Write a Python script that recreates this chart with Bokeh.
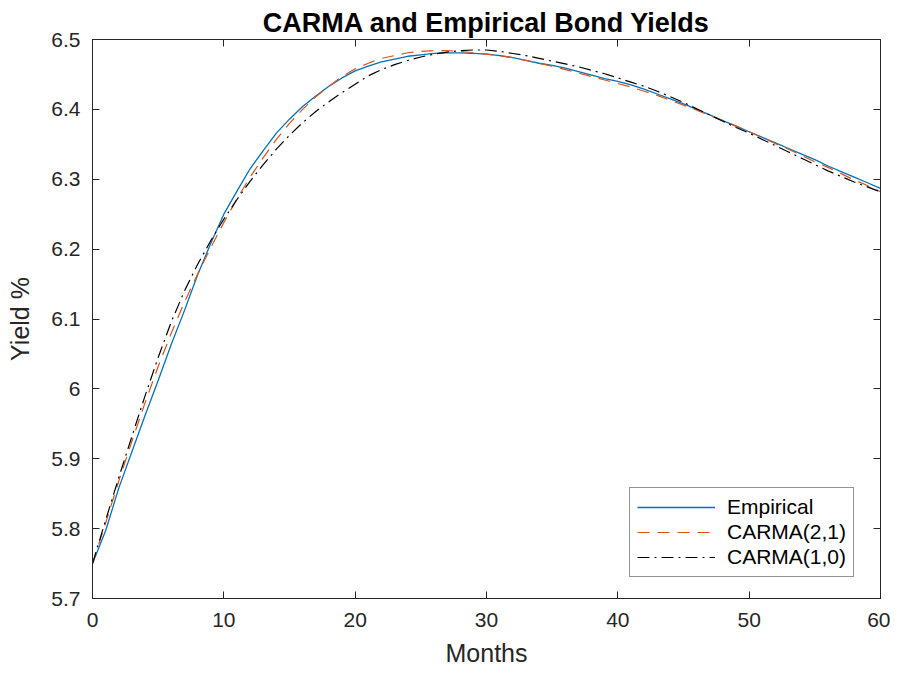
from bokeh.plotting import figure
from bokeh.models import LinearAxis, Range1d, FixedTicker, NumeralTickFormatter, Legend, LegendItem, Title
from bokeh.embed import file_html
from bokeh.resources import INLINE

months = list(range(0, 61))

empirical = [5.750, 5.797, 5.858, 5.910, 5.962, 6.012, 6.064, 6.112, 6.163, 6.208,
             6.250, 6.283, 6.315, 6.341, 6.366, 6.386, 6.404, 6.419, 6.433, 6.445,
             6.455, 6.462, 6.468, 6.472, 6.476, 6.478, 6.480, 6.481, 6.481, 6.480,
             6.479, 6.477, 6.474, 6.470, 6.466, 6.463, 6.459, 6.454, 6.449, 6.444,
             6.440, 6.435, 6.429, 6.422, 6.415, 6.408, 6.400, 6.392, 6.384, 6.376,
             6.368, 6.360, 6.352, 6.344, 6.336, 6.328, 6.319, 6.311, 6.303, 6.295,
             6.287]

carma21 = [5.750, 5.808, 5.868, 5.925, 5.980, 6.032, 6.080, 6.124, 6.164, 6.202,
           6.238, 6.272, 6.303, 6.331, 6.357, 6.380, 6.400, 6.418, 6.433, 6.447,
           6.458, 6.466, 6.473, 6.477, 6.481, 6.483, 6.484, 6.484, 6.483, 6.481,
           6.479, 6.477, 6.474, 6.470, 6.466, 6.462, 6.457, 6.452, 6.447, 6.442,
           6.437, 6.432, 6.426, 6.420, 6.413, 6.406, 6.399, 6.391, 6.384, 6.376,
           6.368, 6.360, 6.351, 6.343, 6.334, 6.325, 6.317, 6.308, 6.299, 6.291,
           6.282]

carma10 = [5.750, 5.812, 5.873, 5.932, 5.990, 6.045, 6.096, 6.140, 6.178, 6.212,
           6.243, 6.271, 6.297, 6.321, 6.343, 6.363, 6.381, 6.397, 6.411, 6.424,
           6.436, 6.448, 6.457, 6.464, 6.470, 6.475, 6.479, 6.482, 6.484, 6.485,
           6.485, 6.483, 6.480, 6.477, 6.473, 6.469, 6.465, 6.461, 6.456, 6.451,
           6.445, 6.439, 6.433, 6.426, 6.418, 6.410, 6.401, 6.392, 6.383, 6.374,
           6.366, 6.357, 6.348, 6.339, 6.330, 6.321, 6.312, 6.304, 6.296, 6.289,
           6.282]

x_ticks = [0, 10, 20, 30, 40, 50, 60]
y_ticks = [5.7, 5.8, 5.9, 6.0, 6.1, 6.2, 6.3, 6.4, 6.5]

FONT = "Liberation Sans"
AX = "#262626"

p = figure(width=890, height=673, output_backend="svg", toolbar_location=None,
           x_range=Range1d(0, 60), y_range=Range1d(5.7, 6.5),
           min_border_left=92, min_border_right=10, min_border_top=39, min_border_bottom=75,
           x_axis_label="Months", y_axis_label="Yield %")
p.title = Title(text="CARMA and Empirical Bond Yields", align="center",
                text_font=FONT, text_font_size="27px", text_font_style="bold",
                text_color="black", standoff=4, offset=0)
p.xgrid.visible = False
p.ygrid.visible = False
p.outline_line_color = AX
p.outline_line_width = 1

def style_axis(ax, ticks, show_labels=True):
    ax.ticker = FixedTicker(ticks=ticks)
    ax.major_tick_in = 7
    ax.major_tick_out = 0
    ax.minor_tick_line_color = None
    ax.axis_line_color = AX
    ax.major_tick_line_color = AX
    ax.major_label_text_font = FONT
    ax.major_label_text_color = AX
    ax.axis_label_text_font = FONT
    ax.axis_label_text_color = AX
    ax.axis_label_text_font_style = "normal"
    ax.axis_label_text_font_size = "25px"
    if show_labels:
        ax.major_label_text_font_size = "21px"
    else:
        ax.major_label_text_font_size = "0px"
        ax.major_label_text_color = None
        ax.major_label_standoff = 0
        ax.axis_label = None

style_axis(p.xaxis[0], x_ticks)
style_axis(p.yaxis[0], y_ticks)
p.xaxis[0].major_label_standoff = 14
p.xaxis[0].axis_label_standoff = 9
p.yaxis[0].major_label_standoff = 12
p.yaxis[0].axis_label_standoff = 14
p.yaxis[0].formatter = NumeralTickFormatter(format="0.[0]")

top = LinearAxis()
style_axis(top, x_ticks, show_labels=False)
p.add_layout(top, "above")
right = LinearAxis()
style_axis(right, y_ticks, show_labels=False)
p.add_layout(right, "right")

r1 = p.line(months, empirical, line_color="#0072BD", line_width=1.3)
r2 = p.line(months, carma21, line_color="#D95319", line_width=1.2, line_dash="12 8")
r3 = p.line(months, carma10, line_color="black", line_width=1.2, line_dash="12 5 2 5")

legend = Legend(items=[LegendItem(label="Empirical", renderers=[r1]),
                       LegendItem(label="CARMA(2,1)", renderers=[r2]),
                       LegendItem(label="CARMA(1,0)", renderers=[r3])],
                location=(537, 21))
legend.label_text_font = FONT
legend.label_text_font_size = "21px"
legend.label_text_color = "black"
legend.glyph_width = 78
legend.glyph_height = 20
legend.label_height = 20
legend.label_standoff = 12
legend.spacing = 1
legend.padding = 7
legend.margin = 0
legend.border_line_color = AX
legend.border_line_width = 1
legend.background_fill_color = "white"
p.add_layout(legend, "center")

open("out.html", "w").write(file_html(p, INLINE))
